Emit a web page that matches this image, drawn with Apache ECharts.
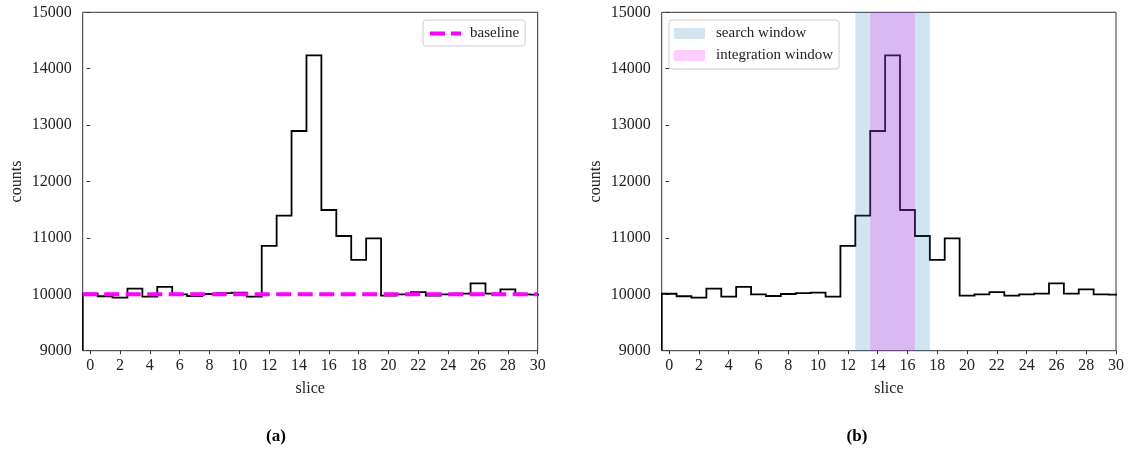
<!DOCTYPE html>
<html><head><meta charset="utf-8">
<script src="https://cdn.jsdelivr.net/npm/echarts@6/dist/echarts.min.js"></script>
<style>html,body{margin:0;padding:0;background:#fff}#c{width:1128px;height:452px}</style>
</head><body><div id="c"></div>
<script>
const slices = [0,1,2,3,4,5,6,7,8,9,10,11,12,13,14,15,16,17,18,19,20,21,22,23,24,25,26,27,28,29,30];
const counts = [10010, 9965, 9940, 10100, 9960, 10130, 10000, 9970, 10005, 10020, 10030, 9960,
                10860, 11395, 12895, 14238, 11495, 11034, 10609, 10993,
                9976, 10000, 10040, 9976, 10000, 10012, 10195, 10012, 10088, 10000, 9995];
const baseline = 10000;
const searchWindow = [12.5, 17.5];
const integrationWindow = [13.5, 16.5];
const xTicks = [0,2,4,6,8,10,12,14,16,18,20,22,24,26,28,30];
const xRange = [-0.5, 30];
const yRange = [9000, 15000];
const yStep = 1000;
const panelLabels = ['(a)', '(b)'];

const FONT = '"Liberation Serif", "DejaVu Serif", serif';
const TXT = '#222';

// histogram outline (matplotlib "step" style): edges of each bin, closed to the bottom
function stepEdges(xs, ys) {
  const pts = [[xs[0] - 0.5, yRange[0]]];
  for (let i = 0; i < xs.length; i++) {
    pts.push([xs[i] - 0.5, ys[i]]);
    pts.push([xs[i] + 0.5, ys[i]]);
  }
  pts.push([xs[xs.length - 1] + 0.5, yRange[0]]);
  return pts;
}
const edges = stepEdges(slices, counts);
const histData = slices.map((s, i) => [s, counts[i]]);

function histSeries(i) {
  return {
    type: 'custom', xAxisIndex: i, yAxisIndex: i, data: histData, clip: true, silent: true, z: 2,
    renderItem: function (params, api) {
      if (params.dataIndex !== 0) return null;
      const pts = edges.map(p => api.coord(p));
      return {type: 'polyline', shape: {points: pts},
              style: {stroke: '#000', lineWidth: 1.8, fill: null, lineJoin: 'miter'}};
    }
  };
}

function gridCfg(left, width) {
  return {left: left, top: 12.3, width: width, height: 338.4, show: true,
          borderColor: '#333', borderWidth: 1, backgroundColor: 'transparent'};
}
function xAxisCfg(i) {
  return {
    type: 'value', gridIndex: i, min: xRange[0], max: xRange[1],
    axisLine: {show: false},
    splitLine: {show: false},
    axisTick: {show: true, length: 3.5, lineStyle: {color: '#333', width: 1}, customValues: xTicks},
    axisLabel: {customValues: xTicks, fontFamily: FONT, fontSize: 16, color: TXT, margin: 7},
    name: 'slice', nameLocation: 'middle', nameGap: 30,
    nameTextStyle: {fontFamily: FONT, fontSize: 16, color: TXT}
  };
}
function yAxisCfg(i) {
  return {
    type: 'value', gridIndex: i, min: yRange[0], max: yRange[1], interval: yStep,
    axisLine: {show: false},
    splitLine: {show: false},
    axisTick: {show: true, length: 3.5, lineStyle: {color: '#333', width: 1}},
    axisLabel: {fontFamily: FONT, fontSize: 16, color: TXT, margin: 11, formatter: v => String(v)},
    name: 'counts', nameLocation: 'middle', nameGap: 58,
    nameTextStyle: {fontFamily: FONT, fontSize: 16, color: TXT}
  };
}

const chart = echarts.init(document.getElementById('c'), null, {renderer: 'canvas'});
chart.setOption({
  animation: false,
  grid: [gridCfg(82.7, 455), gridCfg(661.7, 454.3)],
  xAxis: [xAxisCfg(0), xAxisCfg(1)],
  yAxis: [yAxisCfg(0), yAxisCfg(1)],
  legend: [
    {
      data: [{name: 'baseline', icon: 'path://M0,0H15V4H0Z M21,0H31V4H21Z'}],
      left: 423, top: 20, itemWidth: 31, itemHeight: 4, padding: [6, 6, 5, 7],
      backgroundColor: '#fff', borderColor: '#ccc', borderWidth: 1, borderRadius: 3,
      textStyle: {fontFamily: FONT, fontSize: 15, color: TXT, padding: [0, 0, 0, 4]},
      selectedMode: false
    },
    {
      data: [{name: 'search window', icon: 'rect'}, {name: 'integration window', icon: 'rect'}],
      orient: 'vertical', left: 669, top: 20, itemWidth: 31, itemHeight: 11, itemGap: 7,
      padding: [6, 6, 6, 5],
      backgroundColor: '#fff', borderColor: '#ccc', borderWidth: 1, borderRadius: 3,
      textStyle: {fontFamily: FONT, fontSize: 15, color: TXT, padding: [0, 0, 0, 6]},
      selectedMode: false
    }
  ],
  series: [
    histSeries(0),
    {name: 'baseline', type: 'line', xAxisIndex: 0, yAxisIndex: 0, symbol: 'none', silent: true,
     data: [[xRange[0], baseline], [xRange[1], baseline]], color: '#ff00ff',
     lineStyle: {color: '#ff00ff', width: 4, type: [15, 6.5]}, z: 3},
    histSeries(1),
    {name: 'search window', type: 'line', xAxisIndex: 1, yAxisIndex: 1, data: [], symbol: 'none',
     color: 'rgba(31,119,180,0.2)', z: 5,
     markArea: {silent: true, z: 5, itemStyle: {color: 'rgba(31,119,180,0.2)'},
                data: [[{xAxis: searchWindow[0]}, {xAxis: searchWindow[1]}]]}},
    {name: 'integration window', type: 'line', xAxisIndex: 1, yAxisIndex: 1, data: [], symbol: 'none',
     color: 'rgba(255,0,255,0.2)', z: 6,
     markArea: {silent: true, z: 6, itemStyle: {color: 'rgba(255,0,255,0.2)'},
                data: [[{xAxis: integrationWindow[0]}, {xAxis: integrationWindow[1]}]]}}
  ],
  graphic: [
    {type: 'text', x: 276, y: 437, style: {text: panelLabels[0], font: 'bold 17px "Liberation Serif"', fill: '#000', textAlign: 'center', textVerticalAlign: 'middle'}},
    {type: 'text', x: 857, y: 437, style: {text: panelLabels[1], font: 'bold 17px "Liberation Serif"', fill: '#000', textAlign: 'center', textVerticalAlign: 'middle'}}
  ]
});
</script></body></html>
